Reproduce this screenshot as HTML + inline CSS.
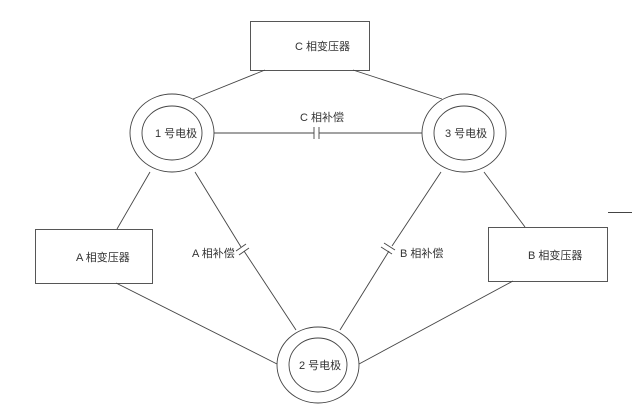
<!DOCTYPE html>
<html><head><meta charset="utf-8"><style>
html,body{margin:0;padding:0;background:#fff;}
svg{display:block;}
text{font-family:"Liberation Sans","Noto Sans CJK SC",sans-serif;font-size:11px;fill:#333;}
</style></head><body>
<svg width="635" height="416" viewBox="0 0 635 416" xmlns="http://www.w3.org/2000/svg">
<g stroke="#444" stroke-width="0.9" fill="none">
<rect x="250.5" y="21.5" width="119" height="49"/>
<rect x="35.5" y="229.5" width="117" height="54"/>
<rect x="488.5" y="227.5" width="119" height="54"/>
<ellipse cx="172" cy="133" rx="42" ry="39"/><ellipse cx="172" cy="133" rx="30" ry="27"/>
<ellipse cx="464" cy="133" rx="42" ry="39"/><ellipse cx="464" cy="133" rx="30" ry="27"/>
<ellipse cx="318" cy="365" rx="41" ry="38"/><ellipse cx="318" cy="365" rx="29" ry="27"/>
<line x1="265" y1="70" x2="193" y2="99"/>
<line x1="353" y1="70" x2="442" y2="99"/>
<line x1="214" y1="133" x2="314" y2="133"/>
<line x1="319" y1="133" x2="422" y2="133"/>
<line x1="314" y1="127" x2="314" y2="139"/>
<line x1="319" y1="127" x2="319" y2="139"/>
<line x1="150" y1="172" x2="117" y2="229"/>
<line x1="484" y1="172" x2="525" y2="227"/>
<line x1="195" y1="172" x2="241" y2="247"/>
<line x1="244" y1="251" x2="296" y2="330"/>
<line x1="236" y1="251" x2="246" y2="244"/>
<line x1="239" y1="255" x2="249" y2="248"/>
<line x1="441" y1="172" x2="392" y2="246"/>
<line x1="389" y1="251" x2="340" y2="330"/>
<line x1="384" y1="243" x2="395" y2="250"/>
<line x1="381" y1="247" x2="392" y2="254"/>
<line x1="116" y1="283" x2="277" y2="364"/>
<line x1="513" y1="281" x2="359" y2="364"/>
<line x1="608" y1="212.5" x2="632" y2="212.5"/>
</g>
<text x="295" y="50">C 相变压器</text>
<text x="155" y="137">1 号电极</text>
<text x="445" y="137">3 号电极</text>
<text x="300" y="121">C 相补偿</text>
<text x="76" y="261">A 相变压器</text>
<text x="528" y="259">B 相变压器</text>
<text x="192" y="257">A 相补偿</text>
<text x="400" y="257">B 相补偿</text>
<text x="299" y="369">2 号电极</text>
</svg>
</body></html>
